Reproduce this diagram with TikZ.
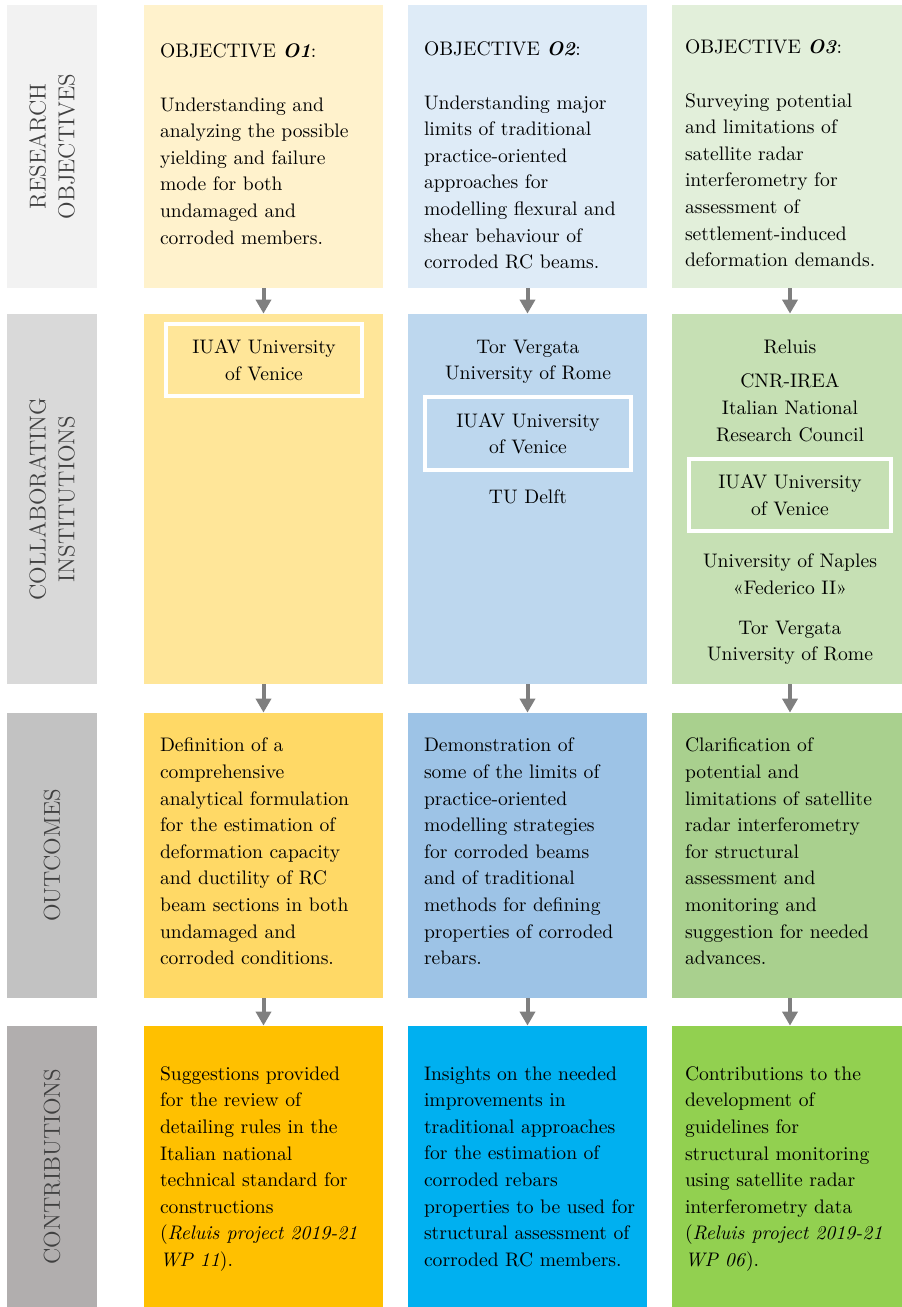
\documentclass[tikz,border=0pt]{standalone}
\usepackage{fontspec}
\usetikzlibrary{arrows.meta}

\definecolor{labA}{HTML}{F2F2F2}
\definecolor{labB}{HTML}{D9D9D9}
\definecolor{labC}{HTML}{C2C2C2}
\definecolor{labD}{HTML}{B1AEAE}
\definecolor{labtext}{HTML}{404040}
\definecolor{yelA}{HTML}{FFF2CC}
\definecolor{yelB}{HTML}{FFE699}
\definecolor{yelC}{HTML}{FFD966}
\definecolor{yelD}{HTML}{FFC000}
\definecolor{bluA}{HTML}{DEEBF7}
\definecolor{bluB}{HTML}{BDD7EE}
\definecolor{bluC}{HTML}{9DC3E6}
\definecolor{bluD}{HTML}{00B0F0}
\definecolor{grnA}{HTML}{E2EFDA}
\definecolor{grnB}{HTML}{C6E0B4}
\definecolor{grnC}{HTML}{A9D08E}
\definecolor{grnD}{HTML}{92D050}
\definecolor{arrowgray}{HTML}{7F7F7F}

\newcommand{\obj}[1]{\textbf{\textit{O#1}}}

\begin{document}
\begin{tikzpicture}[x=0.5pt, y=-0.5pt,
	lab/.style={rotate=90, minimum height=45pt, inner sep=0pt, align=center, text=labtext, font=\fontsize{11.5}{14.3}\selectfont},
	box/.style={minimum width=119.5pt, inner sep=0pt},
	txt/.style={anchor=north west, inner sep=0pt, align=left, font=\fontsize{9.8}{13.3}\selectfont},
	inst/.style={anchor=north, inner sep=0pt, align=center, font=\fontsize{9.8}{13.3}\selectfont},
	uni/.style={draw=white, line width=2pt, inner sep=0pt, align=center, font=\fontsize{9.8}{13.3}\selectfont},
	flow/.style={draw=arrowgray, line width=2pt, -{Triangle[width=7.5pt,length=7pt]}}]
	\useasboundingbox (0,0) rectangle (901,1307);

	% row labels
	\node[lab, fill=labA, minimum width=141.5pt] (lab1) at (52,146.5) {RESEARCH\\OBJECTIVES};
	\node[lab, fill=labB, minimum width=185pt] (lab2) at (52,499) {COLLABORATING\\INSTITUTIONS};
	\node[lab, fill=labC, minimum width=142.5pt] (lab3) at (52,855.5) {OUTCOMES};
	\node[lab, fill=labD, minimum width=140.5pt] (lab4) at (52,1166.5) {CONTRIBUTIONS};

	% research objectives
	\node[box, fill=yelA, minimum height=141.5pt] (obj1) at (263.5,146.5) {};
	\node[box, fill=bluA, minimum height=141.5pt] (obj2) at (527.5,146.5) {};
	\node[box, fill=grnA, minimum height=141.5pt, minimum width=118pt] (obj3) at (790,146.5) {};
	\node[txt] (obj1t) at ([xshift=8pt,yshift=-19.2pt]obj1.north west)
		{OBJECTIVE \obj{1}:\\[13.6pt]Understanding and\\analyzing the possible\\yielding and failure\\mode for both\\undamaged and\\corroded members.};
	\node[txt] (obj2t) at ([xshift=8pt,yshift=-18.2pt]obj2.north west)
		{OBJECTIVE \obj{2}:\\[13.6pt]Understanding major\\limits of traditional\\practice-oriented\\approaches for\\modelling flexural and\\shear behaviour of\\corroded RC beams.};
	\node[txt] (obj3t) at ([xshift=6.5pt,yshift=-17.2pt]obj3.north west)
		{OBJECTIVE \obj{3}:\\[13.6pt]Surveying potential\\and limitations of\\satellite radar\\interferometry for\\assessment of\\settlement-induced\\deformation demands.};

	% collaborating institutions
	\node[box, fill=yelB, minimum height=185pt] (ins1) at (263.5,499) {};
	\node[box, fill=bluB, minimum height=185pt] (ins2) at (527.5,499) {};
	\node[box, fill=grnB, minimum height=185pt, minimum width=118pt] (ins3) at (790,499) {};
	\node[uni, fill=yelB, minimum width=98pt, minimum height=36pt] (iuav1) at (264,360) {IUAV University\\of Venice};
	\node[inst] (torv2) at (528,339.4) {Tor Vergata\\University of Rome};
	\node[uni, fill=bluB, minimum width=103pt, minimum height=36.5pt] (iuav2) at (528,433.5) {IUAV University\\of Venice};
	\node[inst] (delft2) at (528,489.4) {TU Delft};
	\node[inst] (reluis3) at (790,339.4) {Reluis};
	\node[inst] (cnr3) at (790,373.4) {CNR-IREA\\Italian National\\Research Council};
	\node[uni, fill=grnB, minimum width=101pt, minimum height=36pt] (iuav3) at (790,495) {IUAV University\\of Venice};
	\node[inst] (naples3) at (790,553.4) {University of Naples\\«Federico II»};
	\node[inst] (torv3) at (790,620.4) {Tor Vergata\\University of Rome};

	% outcomes
	\node[box, fill=yelC, minimum height=142.5pt] (out1) at (263.5,855.5) {};
	\node[box, fill=bluC, minimum height=142.5pt] (out2) at (527.5,855.5) {};
	\node[box, fill=grnC, minimum height=142.5pt, minimum width=118pt] (out3) at (790,855.5) {};
	\node[txt] (out1t) at ([xshift=8pt,yshift=-12.5pt]out1.north west)
		{Definition of a\\comprehensive\\analytical formulation\\for the estimation of\\deformation capacity\\and ductility of RC\\beam sections in both\\undamaged and\\corroded conditions.};
	\node[txt] (out2t) at ([xshift=8pt,yshift=-12.5pt]out2.north west)
		{Demonstration of\\some of the limits of\\practice-oriented\\modelling strategies\\for corroded beams\\and of traditional\\methods for defining\\properties of corroded\\rebars.};
	\node[txt] (out3t) at ([xshift=6.5pt,yshift=-12.5pt]out3.north west)
		{Clarification of\\potential and\\limitations of satellite\\radar interferometry\\for structural\\assessment and\\monitoring and\\suggestion for needed\\advances.};

	% contributions
	\node[box, fill=yelD, minimum height=140.5pt] (con1) at (263.5,1166.5) {};
	\node[box, fill=bluD, minimum height=140.5pt] (con2) at (527.5,1166.5) {};
	\node[box, fill=grnD, minimum height=140.5pt, minimum width=118pt] (con3) at (790,1166.5) {};
	\node[txt] (con1t) at ([xshift=8pt,yshift=-20.2pt]con1.north west)
		{Suggestions provided\\for the review of\\detailing rules in the\\Italian national\\technical standard for\\constructions\\(\textit{Reluis project 2019-21}\\\textit{WP 11}).};
	\node[txt] (con2t) at ([xshift=8pt,yshift=-20.2pt]con2.north west)
		{Insights on the needed\\improvements in\\traditional approaches\\for the estimation of\\corroded rebars\\properties to be used for\\structural assessment of\\corroded RC members.};
	\node[txt] (con3t) at ([xshift=6.5pt,yshift=-20.2pt]con3.north west)
		{Contributions to the\\development of\\guidelines for\\structural monitoring\\using satellite radar\\interferometry data\\(\textit{Reluis project 2019-21}\\\textit{WP 06}).};

	% arrows down each column
	\foreach \c in {1,2,3} {
		\draw[flow] (obj\c.south) -- (ins\c.north);
		\draw[flow] (ins\c.south) -- (out\c.north);
		\draw[flow] (out\c.south) -- (con\c.north);
	}
\end{tikzpicture}
\end{document}
